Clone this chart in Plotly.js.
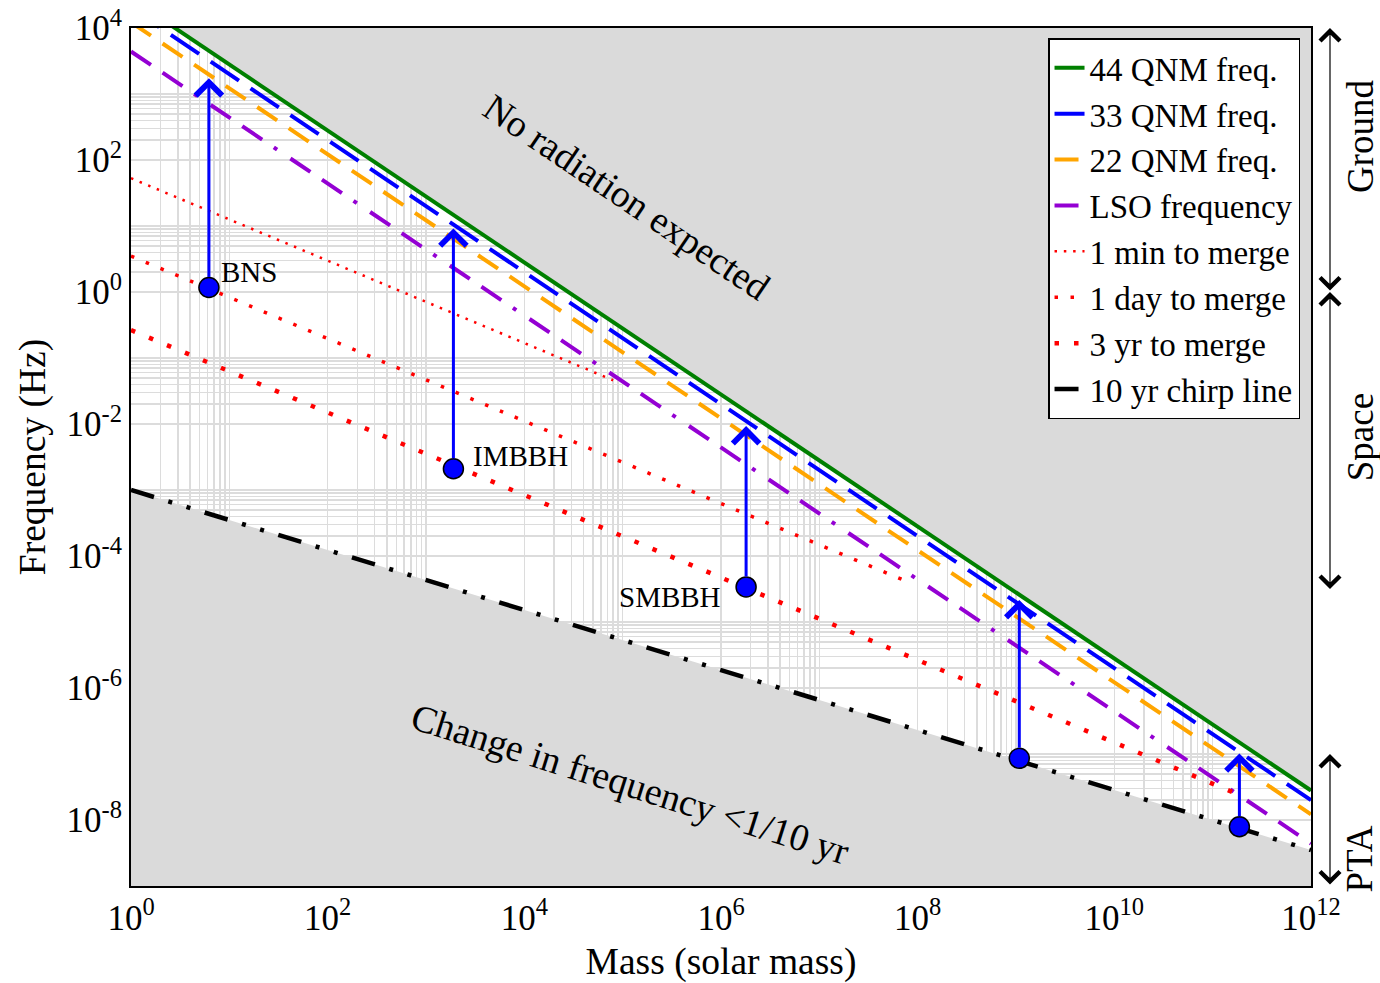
<!DOCTYPE html>
<html><head><meta charset="utf-8">
<script src="https://cdn.plot.ly/plotly-3.0.1.min.js"></script>
<style>html,body{margin:0;padding:0;background:#fff}#chart{width:1380px;height:983px}</style>
</head><body><div id="chart"></div>
<script>
// ---- Line data (mass in solar masses, frequency in Hz) ----
const massLine = [1, 1e12];
const f44QNM = [2.8e4, 2.8e-8];
const f33QNM = [2.0e4, 2.0e-8];
const f22QNM = [1.22e4, 1.22e-8];
const fLSO = [4.4e3, 4.4e-9];
const mass1min = [1, 8e4];
const f1min = [53, 0.046];
const mass1day = [1, 7.1e7];
const f1day = [3.5, 4.35e-5];
const mass3yr = [1, 1.8e11];
const f3yr = [0.265, 2.45e-8];
const fChirp10yr = [1e-3, 3.5e-9];

// ---- Sources ----
const srcNames = ['BNS', 'IMBBH', 'SMBBH', '', ''];
const srcMass = [6.2, 1900, 1.8e6, 1.08e9, 1.87e11];
const srcFreq = [1.17, 2.1e-3, 3.4e-5, 8.6e-8, 7.9e-9];
const srcFreqTop = [1730, 9.2, 9.3e-3, 2.15e-5, 1.02e-7];

// ---- Detector bands ----
const bandNames = ['Ground', 'Space', 'PTA'];
const bandLow = [1, 3e-5, 1e-9];
const bandHigh = [1e4, 1, 1e-7];
const bandLabelFreq = [230, 6.3e-3, 2.6e-9];

// ---- Region labels ----
const regionText = ['No radiation expected', 'Change in frequency &lt;1/10 yr'];
const regionMass = [1.1e5, 1.2e5];
const regionFreq = [27.5, 3.5e-8];
const regionAngle = [34, 17.5];

// ---- Axes ----
const xRange = [0, 12];
const yRange = [-9, 4];
const xDecades = [0, 2, 4, 6, 8, 10, 12];
const yDecades = [-8, -6, -4, -2, 0, 2, 4];

const FONT = 'Liberation Serif, Times New Roman, serif';
const GREY = '#dadada';

function ticks(decades) {
  const vals = [], text = [], minor = [];
  decades.forEach((d, i) => {
    vals.push(Math.pow(10, d)); text.push('10<sup>' + d + '</sup>');
    if (i < decades.length - 1) {
      for (let m = 2; m <= 10; m++) minor.push(m * Math.pow(10, d));
    }
  });
  return {vals, text, minor};
}
const xt = ticks(xDecades), yt = ticks(yDecades);

const traces = [
  {x: [massLine[0], massLine[1], massLine[1], massLine[0]], y: [f44QNM[0], f44QNM[1], 1e6, 1e6],
   mode: 'none', fill: 'toself', fillcolor: GREY, showlegend: false, hoverinfo: 'skip'},
  {x: [massLine[0], massLine[1], massLine[1], massLine[0]], y: [fChirp10yr[0], fChirp10yr[1], 1e-11, 1e-11],
   mode: 'none', fill: 'toself', fillcolor: GREY, showlegend: false, hoverinfo: 'skip'},
  {x: massLine, y: f44QNM, mode: 'lines', name: '44 QNM freq.', line: {color: '#008000', width: 4}},
  {x: massLine, y: f33QNM, mode: 'lines', name: '33 QNM freq.', line: {color: '#0000ff', width: 4, dash: '34px,14px'}},
  {x: massLine, y: f22QNM, mode: 'lines', name: '22 QNM freq.', line: {color: '#ffa500', width: 4, dash: '24px,14px'}},
  {x: massLine, y: fLSO, mode: 'lines', name: 'LSO frequency', line: {color: '#9400d3', width: 4, dash: '24px,14px,24px,14px,4px,16px'}},
  {x: mass1min, y: f1min, mode: 'lines', name: '1 min to merge', line: {color: '#ff0000', width: 2.5, dash: '2.5px,6.8px'}},
  {x: mass1day, y: f1day, mode: 'lines', name: '1 day to merge', line: {color: '#ff0000', width: 3.5, dash: '3.5px,12.5px'}},
  {x: mass3yr, y: f3yr, mode: 'lines', name: '3 yr to merge', line: {color: '#ff0000', width: 4.5, dash: '4.5px,15px'}},
  {x: massLine, y: fChirp10yr, mode: 'lines', name: '10 yr chirp line', line: {color: '#000000', width: 4.5, dash: '24px,15px,4px,15px,4px,15px'}},
  {x: srcMass, y: srcFreq, mode: 'markers', showlegend: false, hoverinfo: 'skip',
   marker: {color: '#0000ff', size: 20, line: {color: '#000000', width: 1.5}}}
];

const annotations = [];
srcMass.forEach((m, i) => {
  annotations.push({x: Math.log10(m), y: Math.log10(srcFreqTop[i]), ax: Math.log10(m), ay: Math.log10(srcFreq[i]),
    xref: 'x', yref: 'y', axref: 'x', ayref: 'y', text: '', showarrow: true,
    arrowhead: 4, arrowsize: 1.7, arrowwidth: 3, arrowcolor: '#0000ff', startstandoff: 9});
});
const labelShift = [[10, 16, 'left'], [18, 13, 'left'], [-23, -10, 'right'], [0, 0, 'left'], [0, 0, 'left']];
srcNames.forEach((n, i) => {
  if (!n) return;
  annotations.push({x: Math.log10(srcMass[i]), y: Math.log10(srcFreq[i]), xref: 'x', yref: 'y', text: n,
    showarrow: false, xanchor: labelShift[i][2], yanchor: 'middle', xshift: labelShift[i][0], yshift: labelShift[i][1],
    font: {family: FONT, size: 29, color: '#000'}});
});
regionText.forEach((t, i) => {
  annotations.push({x: Math.log10(regionMass[i]), y: Math.log10(regionFreq[i]), xref: 'x', yref: 'y', text: t,
    showarrow: false, xanchor: 'center', yanchor: 'middle', textangle: regionAngle[i],
    font: {family: FONT, size: 38, color: '#000'}});
});
bandNames.forEach((b, i) => {
  annotations.push({xref: 'paper', x: 1.0161, yref: 'y', y: Math.log10(bandHigh[i]), axref: 'pixel', ax: 0,
    ayref: 'y', ay: Math.log10(bandLow[i]), text: '', showarrow: true, arrowside: 'end+start',
    arrowhead: 4, startarrowhead: 4, arrowsize: 3.2, startarrowsize: 3.2, arrowwidth: 1.2, arrowcolor: '#000'});
  annotations.push({xref: 'paper', x: 1.0415, yref: 'y', y: Math.log10(bandLabelFreq[i]), text: b, showarrow: false,
    xanchor: 'center', yanchor: 'middle', textangle: -90, font: {family: FONT, size: 37, color: '#000'}});
});

const axisCommon = {type: 'log', ticks: '', showgrid: true, gridcolor: '#dcdcdc', gridwidth: 1.5,
  showline: true, mirror: true, linecolor: '#000', linewidth: 2, zeroline: false,
  tickfont: {family: FONT, size: 35, color: '#000'}};

const layout = {
  width: 1380, height: 983,
  margin: {l: 131, r: 69, t: 28, b: 97},
  paper_bgcolor: '#fff', plot_bgcolor: '#fff',
  font: {family: FONT, color: '#000'},
  xaxis: Object.assign({}, axisCommon, {range: xRange, tickmode: 'array', tickvals: xt.vals, ticktext: xt.text,
    minor: {tickmode: 'array', tickvals: xt.minor, ticks: '', showgrid: true, gridcolor: '#dcdcdc', gridwidth: 1.5},
    title: {text: 'Mass (solar mass)', font: {family: FONT, size: 37.5, color: '#000'}}}),
  yaxis: Object.assign({}, axisCommon, {range: yRange, tickmode: 'array', tickvals: yt.vals, ticktext: yt.text,
    minor: {tickmode: 'array', tickvals: yt.minor, ticks: '', showgrid: true, gridcolor: '#dcdcdc', gridwidth: 1.5},
    title: {text: 'Frequency (Hz)', font: {family: FONT, size: 37.5, color: '#000'}}}),
  legend: {x: 0.9907, y: 0.988, xanchor: 'right', yanchor: 'top', bgcolor: '#fff', bordercolor: '#000',
    borderwidth: 1.5, font: {family: FONT, size: 33, color: '#000'}},
  annotations: annotations,
  showlegend: true
};

Plotly.newPlot('chart', traces, layout, {displayModeBar: false, staticPlot: true});
</script></body></html>
